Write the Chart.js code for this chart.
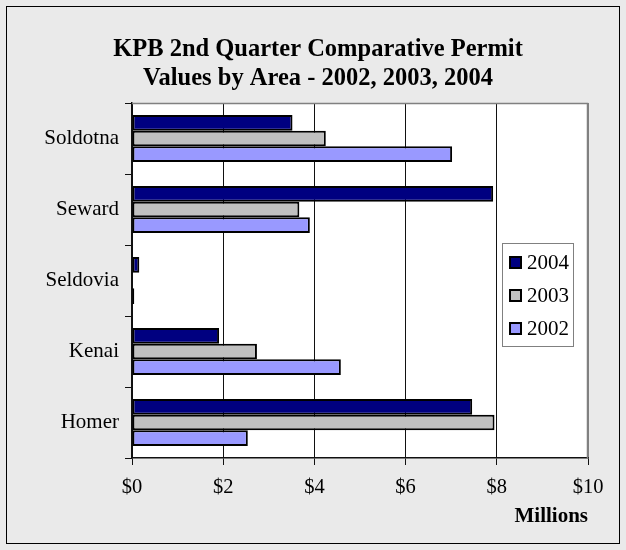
<!DOCTYPE html>
<html>
<head>
<meta charset="utf-8">
<script src="https://cdn.jsdelivr.net/npm/chart.js@4/dist/chart.umd.min.js"></script>
<style>
  html, body { margin: 0; padding: 0; background: #eaeaea; }
  #wrap { width: 626px; height: 550px; }
</style>
</head>
<body>
<div id="wrap"><canvas id="permitChart" width="626" height="550"></canvas></div>
<script>
// areas, top to bottom
const areas = ['Soldotna', 'Seward', 'Seldovia', 'Kenai', 'Homer'];
// permit values in millions of dollars
const values2004 = [3.52, 7.92, 0.16, 1.91, 7.46];
const values2003 = [4.25, 3.67, 0.0, 2.74, 7.95];
const values2002 = [7.02, 3.90, 0.05, 4.58, 2.54];
const xTicks = [0, 2, 4, 6, 8, 10];
const titleLines = ['KPB 2nd Quarter Comparative Permit', 'Values by Area - 2002, 2003, 2004'];

const serif = "'Liberation Serif', 'Times New Roman', serif";

// background, white plot area, frame and title
const framePlugin = {
   id: 'frame',
   beforeDraw(chart) {
      const ctx = chart.ctx;
      const a = chart.chartArea;
      ctx.save();
      ctx.fillStyle = '#eaeaea';
      ctx.fillRect(0, 0, chart.width, chart.height);
      ctx.strokeStyle = '#000';
      ctx.lineWidth = 1;
      ctx.strokeRect(6.5, 6.5, chart.width - 13, chart.height - 13);
      ctx.fillStyle = '#fff';
      ctx.fillRect(a.left, a.top, a.right - a.left, a.bottom - a.top);
      // title, centred a bit right of the canvas middle like the original
      ctx.fillStyle = '#000';
      ctx.font = 'bold 24.5px ' + serif;
      ctx.textAlign = 'center';
      ctx.textBaseline = 'alphabetic';
      titleLines.forEach((t, i) => ctx.fillText(t, 318, 56 + i * 29));
      ctx.restore();
   },
   afterDatasetsDraw(chart) {
      const ctx = chart.ctx;
      const a = chart.chartArea;
      ctx.save();
      ctx.strokeStyle = '#808080';
      ctx.lineWidth = 1.5;
      ctx.beginPath();
      ctx.moveTo(a.left, a.top + 0.5);
      ctx.lineTo(a.right - 0.5, a.top + 0.5);
      ctx.lineTo(a.right - 0.5, a.bottom);
      ctx.stroke();
      ctx.restore();
   }
};

// legend box sitting inside the plot area
const boxLegend = {
   id: 'boxLegend',
   afterDraw(chart) {
      const ctx = chart.ctx;
      const x = 502, y = 243, w = 71, h = 103;
      ctx.save();
      ctx.fillStyle = '#fff';
      ctx.fillRect(x, y, w, h);
      ctx.strokeStyle = '#808080';
      ctx.lineWidth = 1;
      ctx.strokeRect(x + 0.5, y + 0.5, w, h);
      ctx.font = '21px ' + serif;
      ctx.textBaseline = 'middle';
      chart.data.datasets.forEach((ds, i) => {
         const cy = y + 19 + i * 33;
         ctx.fillStyle = ds.backgroundColor;
         ctx.fillRect(x + 8, cy - 5, 11, 11);
         ctx.strokeStyle = '#000';
         ctx.lineWidth = 2;
         ctx.strokeRect(x + 8, cy - 5, 11, 11);
         ctx.fillStyle = '#000';
         ctx.fillText(ds.label, x + 25, cy + 1);
      });
      ctx.restore();
   }
};

const ctx = document.getElementById('permitChart').getContext('2d');
new Chart(ctx, {
   type: 'bar',
   data: {
      labels: areas,
      datasets: [
         { label: '2004', data: values2004, backgroundColor: '#000080' },
         { label: '2003', data: values2003, backgroundColor: '#c0c0c0' },
         { label: '2002', data: values2002, backgroundColor: '#9999ff' }
      ]
   },
   options: {
      indexAxis: 'y',
      responsive: false,
      animation: false,
      layout: { padding: { left: 0, right: 38, top: 103, bottom: 0 } },
      datasets: {
         bar: {
            borderColor: '#000',
            borderWidth: 2,
            borderSkipped: false,
            barPercentage: 1,
            categoryPercentage: 0.66
         }
      },
      scales: {
         x: {
            min: 0,
            max: 10,
            afterBuildTicks: s => { s.ticks = xTicks.map(v => ({ value: v })); },
            afterFit: s => { s.height = 92; },
            ticks: {
               color: '#000',
               font: { family: serif, size: 20.5 },
               padding: 10,
               callback: v => '$' + v
            },
            grid: {
               color: c => c.tick && c.tick.value === 10 ? '#808080' : '#111',
               tickColor: '#111',
               tickLength: 7
            },
            border: { color: '#111', width: 1.5 },
            title: {
               display: true,
               text: 'Millions',
               align: 'end',
               color: '#000',
               font: { family: serif, size: 21, weight: 'bold' },
               padding: { top: 0, bottom: 21 }
            }
         },
         y: {
            afterFit: s => { s.width = 132; },
            ticks: {
               color: '#000',
               font: { family: serif, size: 21 },
               padding: 6
            },
            grid: {
               drawOnChartArea: false,
               tickColor: '#111',
               tickLength: 7
            },
            border: { color: '#111', width: 1.5 }
         }
      },
      plugins: {
         legend: { display: false },
         tooltip: { enabled: false },
         title: { display: false }
      }
   },
   plugins: [framePlugin, boxLegend]
});
</script>
</body>
</html>
